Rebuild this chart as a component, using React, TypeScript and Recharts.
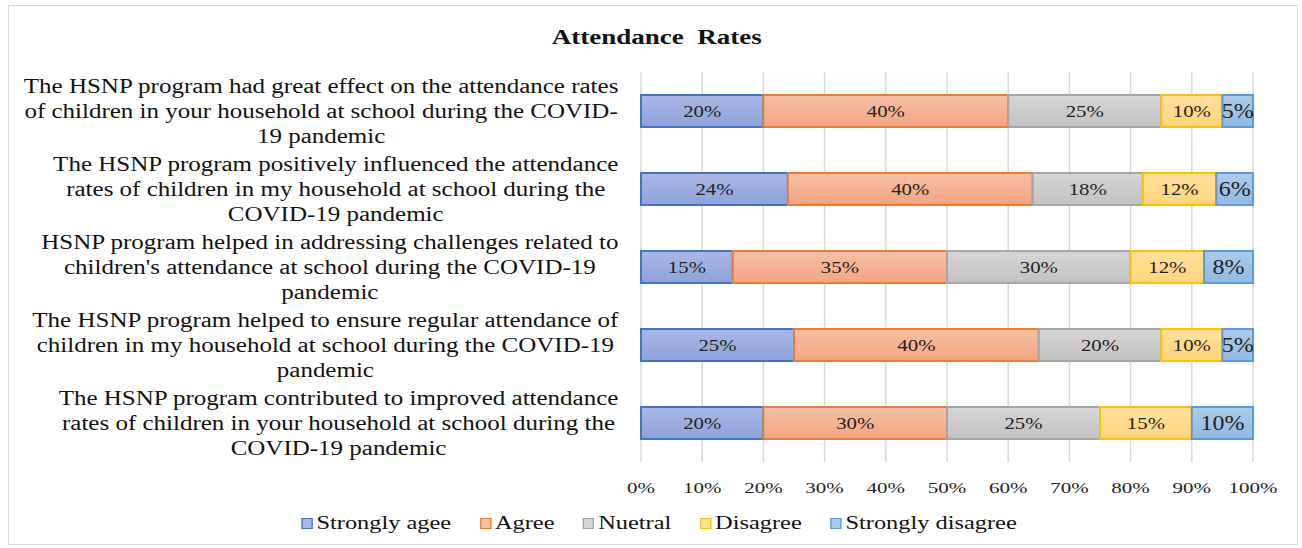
import React from 'react';
import {
  BarChart, Bar, XAxis, YAxis, CartesianGrid, Legend, LabelList,
} from 'recharts';

const statements = [
  'The HSNP program had great effect on the attendance rates\nof children in your household at school during the COVID-\n19 pandemic',
  'The HSNP program positively influenced the attendance\nrates of children in my household at school during the\nCOVID-19 pandemic',
  'HSNP program helped in addressing challenges related to\nchildren\'s attendance at school during the COVID-19\npandemic',
  'The HSNP program helped to ensure regular attendance of\nchildren in my household at school during the COVID-19\npandemic',
  'The HSNP program contributed to improved attendance\nrates of children in your household at school during the\nCOVID-19 pandemic',
];

const stronglyAgree = [20, 24, 15, 25, 20];
const agree = [40, 40, 35, 40, 30];
const neutral = [25, 18, 30, 20, 25];
const disagree = [10, 12, 12, 10, 15];
const stronglyDisagree = [5, 6, 8, 5, 10];

const xTicks = [0, 10, 20, 30, 40, 50, 60, 70, 80, 90, 100];

const seriesNames = ['Strongly agee', 'Agree', 'Nuetral', 'Disagree', 'Strongly disagree'];

const data = statements.map((s, i) => ({
  name: s,
  sa: stronglyAgree[i],
  a: agree[i],
  n: neutral[i],
  d: disagree[i],
  sd: stronglyDisagree[i],
}));

const FONT = "'Liberation Serif', 'Times New Roman', serif";
const LABEL_SIZE = 20;
// the source picture is stretched sideways, so text gets a horizontal scale
const LABEL_SX = 1.25;

const series = [
  { key: 'sa', top: '#a9b7e4', bottom: '#8ea2da', stroke: '#4472C4', size: 16, sx: 1.3 },
  { key: 'a', top: '#f7c0a6', bottom: '#f3a47f', stroke: '#ED7D31', size: 16, sx: 1.3 },
  { key: 'n', top: '#d6d6d6', bottom: '#c2c2c2', stroke: '#A5A5A5', size: 16, sx: 1.3 },
  { key: 'd', top: '#ffe09c', bottom: '#ffd47c', stroke: '#FFC000', size: 16, sx: 1.3 },
  { key: 'sd', top: '#abcbea', bottom: '#93b9e2', stroke: '#5B9BD5', size: 20, sx: 1.2 },
];

let ctx: CanvasRenderingContext2D | null = null;
const measure = (t: string) => {
  if (!ctx) ctx = document.createElement('canvas').getContext('2d');
  if (!ctx) return t.length * 9;
  ctx.font = `${LABEL_SIZE}px ${FONT}`;
  return ctx.measureText(t).width;
};

const StatementTick = (props: any) => {
  const { x, y, payload } = props;
  const lines: string[] = String(payload.value).split('\n');
  const maxW = Math.max(...lines.map(measure));
  const cx = -maxW / 2;
  const lh = 25;
  const startY = -((lines.length - 1) * lh) / 2;
  return (
    <g transform={`translate(${x - 14},${y}) scale(${LABEL_SX},1)`}>
      <text x={cx} y={startY} textAnchor="middle" fontFamily={FONT} fontSize={LABEL_SIZE} fill="#111">
        {lines.map((l, i) => (
          <tspan key={i} x={cx} y={startY + i * lh} dy="0.35em">{l}</tspan>
        ))}
      </text>
    </g>
  );
};

const PctTick = (props: any) => {
  const { x, y, payload } = props;
  return (
    <g transform={`translate(${x},${y}) scale(1.4,1)`}>
      <text textAnchor="middle" dy="0.71em" fontFamily={FONT} fontSize={15} fill="#222">
        {`${payload.value}%`}
      </text>
    </g>
  );
};

const barLabel = (size: number, sx: number) => (props: any) => {
  const { x, y, width, height, value } = props;
  return (
    <g transform={`translate(${x + width / 2},${y + height / 2}) scale(${sx},1)`}>
      <text textAnchor="middle" dy="0.35em" fontFamily={FONT} fontSize={size} fill="#222">
        {`${value}%`}
      </text>
    </g>
  );
};

const LegendContent = () => (
  <div style={{ paddingTop: 14, display: 'flex', justifyContent: 'center', paddingLeft: 56 }}>
    <div style={{
      display: 'flex', fontFamily: FONT, fontSize: 19.5, color: '#111',
      transform: 'scaleX(1.25)', transformOrigin: 'center',
    }}>
      {series.map((s, i) => (
        <div key={s.key} style={{ display: 'flex', alignItems: 'center', marginRight: i < 4 ? 23 : 0 }}>
          <span style={{
            display: 'inline-block', width: 7, height: 9, marginRight: 3,
            background: s.top, border: `1.5px solid ${s.stroke}`,
          }} />
          <span>{seriesNames[i]}</span>
        </div>
      ))}
    </div>
  </div>
);

export default function App() {
  return (
    <div style={{
      position: 'absolute', left: 8, top: 5, width: 1288, height: 538,
      border: '1px solid #d9d9d9', background: '#fff',
    }}>
      <div style={{
        position: 'absolute', top: 20, left: 0, width: 1288, paddingLeft: 4, textAlign: 'center',
        fontFamily: FONT, fontWeight: 'bold', fontSize: 20, color: '#111', whiteSpace: 'pre',
      }}>
        <span style={{ display: 'inline-block', transform: 'scaleX(1.35)' }}>{'Attendance  Rates'}</span>
      </div>
      <BarChart
        width={1288}
        height={538}
        data={data}
        layout="vertical"
        margin={{ top: 66, right: 44, bottom: 10, left: 0 }}
        barSize={32}
      >
        <defs>
          {series.map((s) => (
            <linearGradient key={s.key} id={`g-${s.key}`} x1="0" y1="0" x2="0" y2="1">
              <stop offset="0%" stopColor={s.top} />
              <stop offset="100%" stopColor={s.bottom} />
            </linearGradient>
          ))}
        </defs>
        <CartesianGrid horizontal={false} stroke="#d9d9d9" strokeWidth={1.5} />
        <XAxis
          type="number"
          domain={[0, 100]}
          ticks={xTicks}
          axisLine={false}
          tickLine={false}
          tick={<PctTick />}
          tickMargin={14}
          height={36}
        />
        <YAxis
          type="category"
          dataKey="name"
          width={632}
          axisLine={false}
          tickLine={false}
          tick={<StatementTick />}
          interval={0}
        />
        <Legend verticalAlign="bottom" height={36} content={<LegendContent />} />
        {series.map((s, i) => (
          <Bar
            key={s.key}
            dataKey={s.key}
            name={seriesNames[i]}
            stackId="all"
            fill={`url(#g-${s.key})`}
            stroke={s.stroke}
            strokeWidth={2}
            isAnimationActive={false}
          >
            <LabelList dataKey={s.key} content={barLabel(s.size, s.sx)} />
          </Bar>
        ))}
      </BarChart>
    </div>
  );
}
